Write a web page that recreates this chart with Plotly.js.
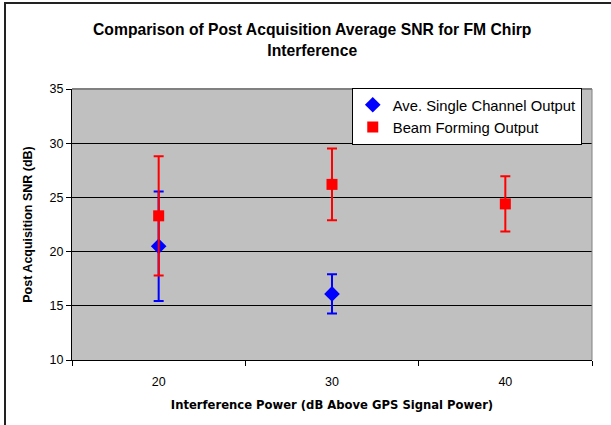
<!DOCTYPE html>
<html>
<head>
<meta charset="utf-8">
<script src="https://cdn.plot.ly/plotly-3.0.1.min.js"></script>
<style>
html,body{margin:0;padding:0;background:#fff;}
#wrap{position:relative;width:611px;height:425px;overflow:hidden;}
#frame{position:absolute;left:4px;top:2px;width:700px;height:500px;border-left:2px solid #222;border-top:2px solid #222;pointer-events:none;z-index:5;}
#chart{position:absolute;left:0;top:0;width:611px;height:425px;}
</style>
</head>
<body>
<div id="wrap"><div id="chart"></div><div id="frame"></div></div>
<script>
var categories = ['20', '30', '40'];
var singleCats = ['20', '30'];
var singleValues = [20.5, 16.1];
var singleErr = [5.05, 1.8];
var beamCats = ['20', '30', '40'];
var beamValues = [23.3, 26.2, 24.4];
var beamErr = [5.5, 3.3, 2.55];

var traces = [
  {
    type: 'scatter', mode: 'markers', name: 'Ave. Single Channel Output',
    x: singleCats, y: singleValues,
    error_y: {type: 'data', array: singleErr, visible: true, color: '#0000FF', thickness: 2, width: 5},
    marker: {symbol: 'diamond', size: 12, color: '#0000FF'}
  },
  {
    type: 'scatter', mode: 'markers', name: 'Beam Forming Output',
    x: beamCats, y: beamValues,
    error_y: {type: 'data', array: beamErr, visible: true, color: '#FF0000', thickness: 2, width: 5},
    marker: {symbol: 'square', size: 11, color: '#FF0000'}
  }
];

var layout = {
  width: 611, height: 425,
  margin: {l: 72, r: 19, t: 89, b: 65},
  paper_bgcolor: '#ffffff',
  plot_bgcolor: '#C0C0C0',
  font: {family: 'Liberation Sans, Arial, sans-serif', color: '#000', size: 12},
  title: {
    text: '<b>Comparison of Post Acquisition Average SNR for FM Chirp<br>Interference</b>',
    font: {size: 15.7, family: 'Liberation Sans, Arial, sans-serif', color: '#000'},
    x: 0.511, xanchor: 'center', y: 0.917, yanchor: 'top'
  },
  showlegend: true,
  legend: {
    x: 0.538, xanchor: 'left', y: 1.005, yanchor: 'top',
    bgcolor: '#ffffff', bordercolor: '#000', borderwidth: 1,
    font: {size: 14.8, family: 'Liberation Sans, Arial, sans-serif'},
    tracegroupgap: 0
  },
  xaxis: {
    type: 'category', categoryorder: 'array', categoryarray: categories,
    range: [-0.5, 2.5],
    showgrid: false, zeroline: false,
    showline: true, linecolor: '#000', linewidth: 1,
    ticks: 'outside', tickson: 'boundaries', ticklen: 5, tickcolor: '#000',
    ticklabelstandoff: 10,
    tickfont: {size: 12.5},
    title: {text: '<b>Interference Power (dB Above GPS Signal Power)</b>', font: {size: 11.6, family: 'DejaVu Sans, sans-serif'}, standoff: 12}
  },
  yaxis: {
    range: [10, 35], dtick: 5, tick0: 10,
    showgrid: true, gridcolor: '#000', gridwidth: 1,
    zeroline: false,
    showline: true, linecolor: '#000', linewidth: 1,
    ticks: 'outside', ticklen: 5, tickcolor: '#000',
    tickfont: {size: 12.5},
    title: {text: '<b>Post Acquisition SNR (dB)</b>', font: {size: 12.5}, standoff: 14}
  },
  shapes: [
    {type: 'line', xref: 'paper', yref: 'paper', x0: 0, x1: 1, y0: 1, y1: 1, line: {color: '#808080', width: 2}, layer: 'above'},
    {type: 'line', xref: 'paper', yref: 'paper', x0: 1, x1: 1, y0: 0, y1: 1, line: {color: '#808080', width: 1}, layer: 'above'}
  ]
};

Plotly.newPlot('chart', traces, layout, {displayModeBar: false, staticPlot: true});
</script>
</body>
</html>
